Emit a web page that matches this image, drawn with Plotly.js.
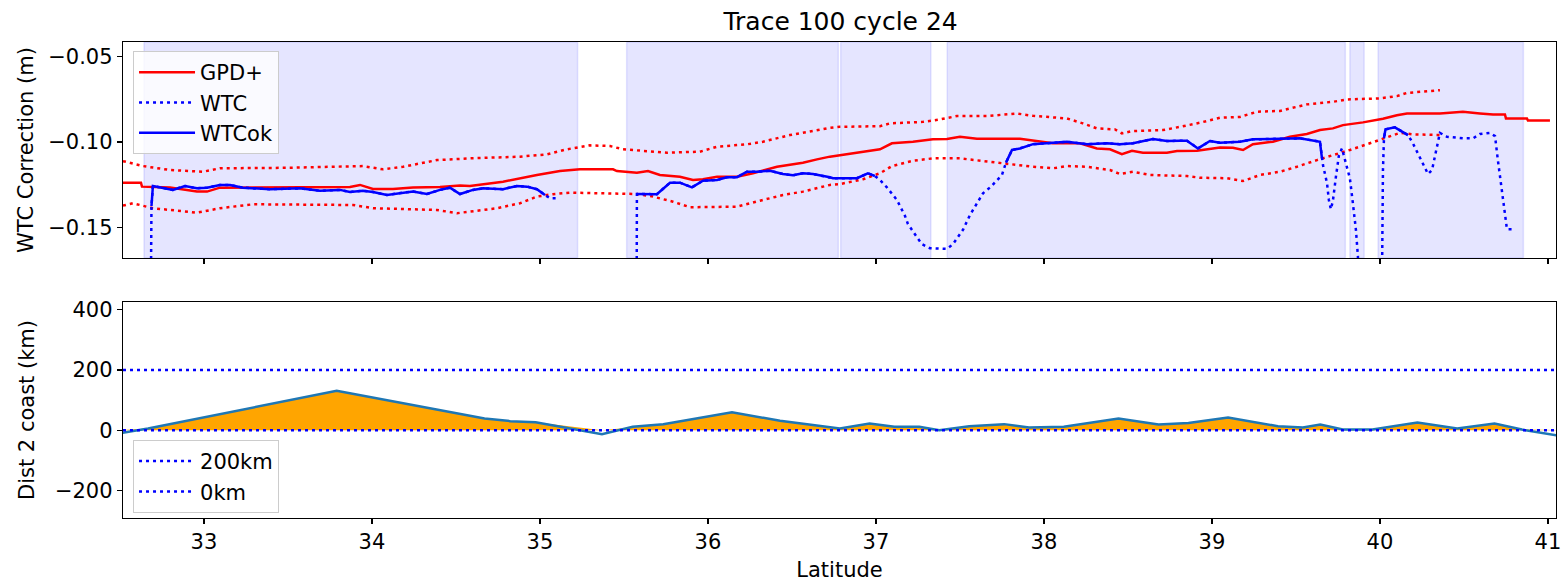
<!DOCTYPE html>
<html>
<head>
<meta charset="utf-8">
<script src="https://cdn.plot.ly/plotly-3.0.1.min.js"></script>
<style>html,body{margin:0;padding:0;background:#fff;}#chart{width:1561px;height:582px;}</style>
</head>
<body>
<div id="chart"></div>
<script>
// ---------- data ----------
const latRange = [32.518, 41.048];

// Shaded valid-data spans (latitude)
const spanStart = [32.643, 35.516, 36.790, 37.424, 39.821, 39.989];
const spanEnd   = [35.224, 36.776, 37.327, 39.794, 39.906, 40.854];

// GPD+ correction (m)
const gpdLat = [32.518,32.625,32.631,32.798,32.958,33.018,33.095,33.571,33.869,33.929,34.006,34.125,34.244,34.405,34.524,34.583,34.780,34.982,35.119,35.238,35.435,35.458,35.577,35.643,35.714,35.833,35.911,35.970,36.054,36.173,36.268,36.411,36.565,36.649,36.726,37.024,37.095,37.220,37.339,37.423,37.500,37.601,37.857,38.054,38.214,38.315,38.393,38.464,38.524,38.589,38.732,38.792,38.911,39.048,39.125,39.185,39.244,39.363,39.464,39.565,39.643,39.720,39.780,39.899,40.018,40.101,40.161,40.357,40.458,40.494,40.595,40.673,40.744,40.750,40.875,40.881,41.012];
const gpdVal = [-0.1238,-0.1238,-0.1261,-0.1266,-0.1290,-0.1290,-0.1267,-0.1266,-0.1263,-0.1251,-0.1275,-0.1275,-0.1266,-0.1263,-0.1254,-0.1257,-0.1232,-0.1193,-0.1170,-0.1160,-0.1160,-0.1170,-0.1180,-0.1170,-0.1193,-0.1203,-0.1222,-0.1218,-0.1203,-0.1203,-0.1183,-0.1145,-0.1121,-0.1102,-0.1086,-0.1043,-0.1008,-0.0999,-0.0985,-0.0983,-0.0970,-0.0982,-0.0982,-0.1008,-0.1008,-0.1038,-0.1043,-0.1071,-0.1052,-0.1063,-0.1063,-0.1053,-0.1052,-0.1032,-0.1034,-0.1047,-0.1013,-0.0999,-0.0970,-0.0954,-0.0931,-0.0921,-0.0902,-0.0886,-0.0865,-0.0844,-0.0834,-0.0834,-0.0824,-0.0824,-0.0834,-0.0840,-0.0840,-0.0863,-0.0863,-0.0875,-0.0875];

// GPD+ upper / lower bounds (m)
const upLat = [32.518,32.637,32.798,32.994,33.095,33.494,33.946,34.065,34.185,34.387,34.583,34.881,35.042,35.161,35.298,35.417,35.494,35.655,35.756,35.952,36.054,36.232,36.327,36.488,36.625,36.726,36.786,37.024,37.083,37.280,37.381,37.482,37.661,37.839,37.935,38.137,38.232,38.315,38.423,38.464,38.524,38.708,38.810,38.929,39.048,39.167,39.268,39.405,39.565,39.720,39.804,40.000,40.101,40.161,40.357];
const upVal = [-0.1112,-0.1141,-0.1164,-0.1174,-0.1154,-0.1151,-0.1141,-0.1160,-0.1145,-0.1106,-0.1096,-0.1086,-0.1073,-0.1043,-0.1020,-0.1024,-0.1043,-0.1057,-0.1063,-0.1057,-0.1028,-0.1014,-0.0999,-0.0960,-0.0935,-0.0918,-0.0912,-0.0908,-0.0892,-0.0883,-0.0869,-0.0849,-0.0849,-0.0834,-0.0848,-0.0863,-0.0892,-0.0921,-0.0927,-0.0950,-0.0937,-0.0931,-0.0912,-0.0888,-0.0859,-0.0854,-0.0824,-0.0819,-0.0781,-0.0766,-0.0752,-0.0746,-0.0733,-0.0714,-0.0698];
const loLat = [32.518,32.577,32.696,32.958,33.095,33.292,33.887,34.006,34.387,34.506,34.744,34.881,34.982,35.077,35.179,35.577,35.673,35.792,35.893,35.970,36.173,36.310,36.446,36.565,36.726,36.786,36.923,37.024,37.095,37.220,37.339,37.500,37.637,37.798,37.935,38.054,38.137,38.256,38.393,38.452,38.530,38.631,38.851,38.929,39.089,39.185,39.286,39.405,39.506,39.625,39.744,39.821,39.940,40.060,40.119,40.196,40.357];
const loVal = [-0.1372,-0.1358,-0.1387,-0.1413,-0.1387,-0.1364,-0.1368,-0.1387,-0.1397,-0.1416,-0.1387,-0.1358,-0.1319,-0.1305,-0.1296,-0.1304,-0.1319,-0.1349,-0.1381,-0.1381,-0.1378,-0.1343,-0.1310,-0.1290,-0.1251,-0.1246,-0.1218,-0.1183,-0.1141,-0.1110,-0.1096,-0.1096,-0.1112,-0.1129,-0.1145,-0.1154,-0.1141,-0.1145,-0.1164,-0.1187,-0.1174,-0.1193,-0.1199,-0.1209,-0.1212,-0.1228,-0.1193,-0.1174,-0.1145,-0.1106,-0.1071,-0.1047,-0.1008,-0.0970,-0.0947,-0.0956,-0.0960];

// WTC (m) and validity flag (1 = WTCok)
const wtcLat = [32.679,32.6875,32.696,32.815,32.887,32.958,33.018,33.095,33.155,33.232,33.393,33.571,33.690,33.810,33.869,33.946,34.006,34.089,34.185,34.244,34.327,34.405,34.464,34.524,34.601,34.661,34.780,34.863,34.923,34.982,35.030,35.060,35.107,
  35.300,
  35.574,35.577,35.696,35.774,35.833,35.905,35.970,36.054,36.113,36.173,36.232,36.292,36.369,36.446,36.506,36.565,36.625,36.726,36.744,36.887,36.952,36.994,
  37.024,37.065,37.095,37.125,37.173,37.190,37.244,37.274,37.321,37.423,37.458,37.488,37.518,37.560,37.589,37.637,37.685,37.720,37.750,
  37.774,37.810,37.857,37.935,38.054,38.137,38.256,38.375,38.452,38.530,38.649,38.732,38.810,38.851,38.917,38.988,39.048,39.167,39.244,39.482,39.524,39.643,39.655,
  39.661,39.685,39.696,39.708,39.720,39.738,39.756,39.774,39.792,39.821,39.839,39.857,39.869,39.881,
  40.006,40.012,40.018,40.024,40.033,40.089,40.167,
  40.196,40.238,40.286,40.310,40.339,40.357,40.399,40.494,40.554,40.595,40.655,40.685,40.702,40.726,40.744,40.756,40.804];
const wtcVal = [-0.25,-0.1374,-0.1257,-0.1280,-0.1257,-0.1271,-0.1267,-0.1251,-0.1251,-0.1267,-0.1276,-0.1271,-0.1285,-0.1280,-0.1292,-0.1285,-0.1292,-0.1310,-0.1296,-0.1290,-0.1304,-0.1280,-0.1267,-0.1304,-0.1280,-0.1271,-0.1276,-0.1257,-0.1261,-0.1276,-0.1310,-0.1329,-0.1329,
  null,
  -0.25,-0.1304,-0.1305,-0.1238,-0.1238,-0.1265,-0.1226,-0.1222,-0.1206,-0.1206,-0.1174,-0.1174,-0.1168,-0.1187,-0.1195,-0.1183,-0.1187,-0.1206,-0.1212,-0.1212,-0.1183,-0.1199,
  -0.1222,-0.1265,-0.1300,-0.1339,-0.1432,-0.1478,-0.1556,-0.1597,-0.1620,-0.1624,-0.1597,-0.1558,-0.1513,-0.1426,-0.1378,-0.1300,-0.1261,-0.1226,-0.1193,
  -0.1121,-0.1047,-0.1038,-0.1013,-0.1005,-0.0999,-0.1013,-0.1008,-0.1014,-0.1008,-0.0983,-0.0995,-0.0993,-0.0993,-0.1038,-0.0995,-0.1005,-0.0999,-0.0985,-0.0979,-0.0979,-0.0999,-0.1096,
  -0.1135,-0.1241,-0.1339,-0.1393,-0.1344,-0.1203,-0.1077,-0.1038,-0.1106,-0.1212,-0.1358,-0.1513,-0.1669,-0.25,
  -0.25,-0.1473,-0.1164,-0.0979,-0.0927,-0.0915,-0.0960,
  -0.1008,-0.1090,-0.1187,-0.1164,-0.1028,-0.0947,-0.0970,-0.0979,-0.0979,-0.0954,-0.0947,-0.0966,-0.1106,-0.1280,-0.1436,-0.1509,-0.1509];
const wtcOkFlag = [0,1,1,1,1,1,1,1,1,1,1,1,1,1,1,1,1,1,1,1,1,1,1,1,1,1,1,1,1,1,1,0,0,
  0,
  0,1,1,1,1,1,1,1,1,1,1,1,1,1,1,1,1,1,1,1,1,1,
  0,0,0,0,0,0,0,0,0,0,0,0,0,0,0,0,0,0,0,
  1,1,1,1,1,1,1,1,1,1,1,1,1,1,1,1,1,1,1,1,1,1,1,
  0,0,0,0,0,0,0,0,0,0,0,0,0,0,
  0,0,0,1,1,1,1,
  0,0,0,0,0,0,0,0,0,0,0,0,0,0,0,0,0];

// Distance to coast (km)
const distLat = [32.514,32.667,33.790,34.307,34.670,34.823,34.974,35.369,35.552,35.734,36.143,36.429,36.695,36.785,36.962,37.110,37.258,37.377,37.555,37.763,37.911,38.118,38.444,38.682,38.860,39.096,39.393,39.541,39.645,39.779,39.956,40.223,40.460,40.682,40.845,41.077];
const distVal = [-9,5.6,130.6,77.4,38.9,30,26.6,-13.3,11,19.9,59.8,31,11,5.5,22,11,11,0,13,20,9,11,39,19,24,42,13,9,19,2,2,25.6,5.5,22,2,-20];

const refLines = [200, 0];
const refNames = ['200km', '0km'];

// ---------- figure ----------
const FONT = 'DejaVu Sans, sans-serif';
const FS = 21;
const wtcOkVal = wtcVal.map((v, i) => (wtcOkFlag[i] ? v : null));
const distFill = distVal.map(v => Math.max(0, v));

const traces = [
  {x: gpdLat, y: gpdVal, name: 'GPD+', type: 'scatter', mode: 'lines', line: {color: 'red', width: 2.5}, xaxis: 'x', yaxis: 'y', legend: 'legend'},
  {x: upLat, y: upVal, type: 'scatter', mode: 'lines', line: {color: 'red', width: 2.5, dash: '3px,4px'}, showlegend: false, xaxis: 'x', yaxis: 'y'},
  {x: loLat, y: loVal, type: 'scatter', mode: 'lines', line: {color: 'red', width: 2.5, dash: '3px,4px'}, showlegend: false, xaxis: 'x', yaxis: 'y'},
  {x: wtcLat, y: wtcVal, name: 'WTC', type: 'scatter', mode: 'lines', line: {color: 'blue', width: 2.5, dash: '3px,4px'}, connectgaps: false, xaxis: 'x', yaxis: 'y', legend: 'legend'},
  {x: wtcLat, y: wtcOkVal, name: 'WTCok', type: 'scatter', mode: 'lines', line: {color: 'blue', width: 2.5}, connectgaps: false, xaxis: 'x', yaxis: 'y', legend: 'legend'},

  {x: distLat, y: distFill, type: 'scatter', mode: 'lines', fill: 'tozeroy', fillcolor: '#FFA500', line: {width: 0, color: 'rgba(0,0,0,0)'}, showlegend: false, xaxis: 'x2', yaxis: 'y2', hoverinfo: 'skip'},
  {x: distLat, y: distVal, type: 'scatter', mode: 'lines', line: {color: '#1f77b4', width: 2.5}, showlegend: false, xaxis: 'x2', yaxis: 'y2'}
];
refLines.forEach((v, i) => {
  traces.push({x: latRange, y: [v, v], name: refNames[i], type: 'scatter', mode: 'lines',
    line: {color: 'blue', width: 2.5, dash: '3px,4px'}, xaxis: 'x2', yaxis: 'y2', legend: 'legend2'});
});

const shapes = spanStart.map((s, i) => ({
  type: 'rect', xref: 'x', yref: 'y domain', x0: s, x1: spanEnd[i], y0: 0, y1: 1,
  fillcolor: 'rgba(0,0,255,0.1)', line: {color: 'rgba(0,0,255,0.1)', width: 1.5}, layer: 'below'
}));

const axisCommon = {
  showline: true, mirror: true, linecolor: 'black', linewidth: 1.2,
  ticks: 'outside', ticklen: 5, tickwidth: 1.2, tickcolor: 'black',
  showgrid: false, zeroline: false, ticklabeloverflow: 'allow',
  tickfont: {family: FONT, size: FS, color: 'black'}
};

const legendCommon = {
  bgcolor: 'rgba(255,255,255,0.8)', bordercolor: '#cccccc', borderwidth: 1,
  font: {family: FONT, size: 21, color: 'black'}, xref: 'paper', yref: 'paper',
  xanchor: 'left', yanchor: 'top', tracegroupgap: 0, itemwidth: 56
};

const layout = {
  width: 1561, height: 582,
  margin: {l: 123, r: 5, t: 42, b: 64},
  paper_bgcolor: 'white', plot_bgcolor: 'white',
  font: {family: FONT, size: FS, color: 'black'},
  title: {text: 'Trace 100 cycle 24', font: {family: FONT, size: 25, color: 'black'}, x: 0.5385, xanchor: 'center', y: 0.963, yanchor: 'middle'},
  xaxis: Object.assign({}, axisCommon, {domain: [0, 1], anchor: 'y', range: latRange, dtick: 1, tick0: 0, showticklabels: false}),
  yaxis: Object.assign({}, axisCommon, {domain: [0.546, 1], anchor: 'x', range: [-0.1678, -0.0417], dtick: 0.05, tick0: 0, tickformat: '.2f',
    title: {text: 'WTC Correction (m)', font: {family: FONT, size: FS, color: 'black'}, standoff: 8}}),
  xaxis2: Object.assign({}, axisCommon, {domain: [0, 1], anchor: 'y2', range: latRange, dtick: 1, tick0: 0, matches: 'x',
    title: {text: 'Latitude', font: {family: FONT, size: FS, color: 'black'}, standoff: 10}}),
  yaxis2: Object.assign({}, axisCommon, {domain: [0, 0.4538], anchor: 'x2', range: [-292, 426], dtick: 200, tick0: 0,
    title: {text: 'Dist 2 coast (km)', font: {family: FONT, size: FS, color: 'black'}, standoff: 14}}),
  shapes: shapes,
  showlegend: true,
  legend: Object.assign({}, legendCommon, {x: 0.007, y: 0.981}),
  legend2: Object.assign({}, legendCommon, {x: 0.007, y: 0.164})
};

Plotly.newPlot('chart', traces, layout, {displayModeBar: false, staticPlot: true});
</script>
</body>
</html>
